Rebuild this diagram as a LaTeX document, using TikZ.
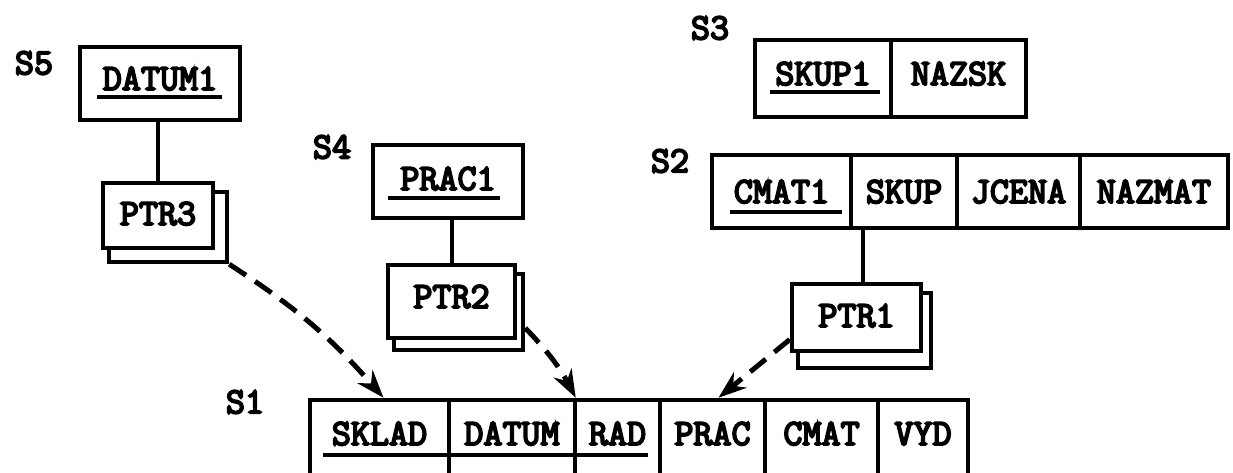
\documentclass[tikz,border=0pt]{standalone}
\usepackage{fontspec}
\newfontfamily\typewr{Latin Modern Mono}[FakeBold=5]
\usetikzlibrary{arrows.meta, positioning}

\begin{document}
\begin{tikzpicture}[x=1pt, y=-1pt,
  tw/.style={font=\typewr\bfseries\fontsize{37pt}{37pt}\selectfont},
  cell/.style={tw, draw, fill=white, line width=4.5pt, inner sep=0pt},
  cardback/.style={draw, fill=white, line width=4.5pt, inner sep=0pt},
  slabel/.style={tw, inner sep=0pt},
  keyline/.style={line width=3.5pt},
  link/.style={line width=4pt},
  ptrarrow/.style={line width=5pt, dash pattern=on 20pt off 11pt,
    -{Stealth[length=28pt, width=20pt]}}]
\useasboundingbox (0,0) rectangle (1233,473);
\fill [white] (0,0) rectangle (1233,473);
\node (s5lbl) at (34,63) [slabel] {S5};
\node (s4lbl) at (332,147) [slabel] {S4};
\node (s3lbl) at (710,28) [slabel] {S3};
\node (s2lbl) at (670,161) [slabel] {S2};
\node (s1lbl) at (245,402) [slabel] {S1};
\node (datum1) at (160,83.5) [cell, minimum width=160pt, text height=43pt, text depth=30pt] {DATUM1};
\draw [keyline] (97,97) -- (222,97);
\node (ptr3back) at (168,227) [cardback, minimum width=118pt, minimum height=70pt] {};
\node (ptr3) at (158,215.5) [cell, minimum width=110pt, text height=42pt, text depth=23pt] {PTR3};
\node (prac1) at (448,181.5) [cell, minimum width=150pt, text height=45pt, text depth=28pt] {PRAC1};
\draw [keyline] (388,198) -- (500,198);
\node (ptr2back) at (458.5,312) [cardback, minimum width=129pt, minimum height=76pt] {};
\node (ptr2) at (451.5,301.5) [cell, minimum width=127pt, text height=43pt, text depth=30pt] {PTR2};
\node (skup1) at (823,78.5) [cell, minimum width=136pt, text height=45pt, text depth=32pt] {SKUP1};
\node (nazsk) at (958.5,78.5) [cell, minimum width=135pt, text height=45pt, text depth=32pt] {NAZSK};
\draw [keyline] (770,92) -- (880,92);
\node (cmat1) at (781.5,191.5) [cell, minimum width=139pt, text height=48pt, text depth=25pt] {CMAT1};
\node (skup) at (904,191.5) [cell, minimum width=106pt, text height=48pt, text depth=25pt] {SKUP};
\node (jcena) at (1018.5,191.5) [cell, minimum width=123pt, text height=48pt, text depth=25pt] {JCENA};
\node (nazmat) at (1154,191.5) [cell, minimum width=148pt, text height=48pt, text depth=25pt] {NAZMAT};
\draw [keyline] (730,212) -- (842,212);
\node (ptr1back) at (864.5,330.5) [cardback, minimum width=133pt, minimum height=75pt] {};
\node (ptr1) at (856.5,317.5) [cell, minimum width=129pt, text height=43pt, text depth=24pt] {PTR1};
\node (sklad) at (379.5,440) [cell, minimum width=139pt, text height=45pt, text depth=35pt] {SKLAD};
\node (datum) at (512,440) [cell, minimum width=126pt, text height=45pt, text depth=35pt] {DATUM};
\node (rad) at (617.5,440) [cell, minimum width=85pt, text height=45pt, text depth=35pt] {RAD};
\node (prac) at (712.5,440) [cell, minimum width=105pt, text height=45pt, text depth=35pt] {PRAC};
\node (cmat) at (821.5,440) [cell, minimum width=113pt, text height=45pt, text depth=35pt] {CMAT};
\node (vyd) at (923,440) [cell, minimum width=90pt, text height=45pt, text depth=35pt] {VYD};
\draw [keyline] (323,455) -- (648,455);
\draw [link] (ptr3.north) -- (ptr3.north |- datum1.south);
\draw [link] (ptr2.north) -- (ptr2.north |- prac1.south);
\path (ptr1.north) ++(6.5,0) coordinate (ptr1top);
\draw [link] (ptr1top) -- (ptr1top |- skup.south);
\draw [ptrarrow] (ptr3back.south east) to[bend left=8] ([xshift=4pt]sklad.north);
\draw [ptrarrow] ([yshift=-16pt]ptr2back.east) to[bend left=8] ([xshift=3pt]rad.north west);
\draw [ptrarrow] ([yshift=-22pt]ptr1.west) -- ([xshift=6pt]prac.north);
\end{tikzpicture}
\end{document}
